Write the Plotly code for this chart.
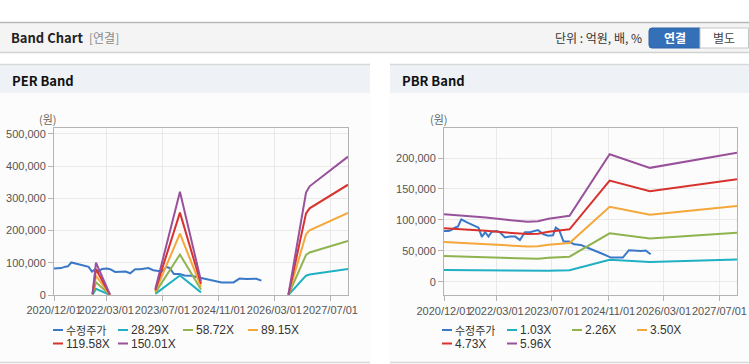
import plotly.graph_objects as go

W, H = 749, 364

# ---------------- data ----------------
price_dates = ["2020-12-01", "2021-01-10", "2021-02-01", "2021-03-10", "2021-04-01", "2021-05-01",
               "2021-06-15", "2021-07-31", "2021-09-28", "2021-10-27", "2021-11-25", "2021-12-24",
               "2022-01-22", "2022-03-05", "2022-04-03", "2022-05-17", "2022-06-30", "2022-08-15",
               "2022-09-24", "2022-11-07", "2022-12-20", "2023-03-01", "2023-04-14", "2023-05-28",
               "2023-07-10", "2023-08-03", "2023-09-01", "2023-10-10", "2023-11-28", "2024-01-10",
               "2024-03-08", "2024-05-06", "2024-07-04", "2024-09-01", "2024-11-27", "2025-03-10",
               "2025-05-02", "2025-06-30", "2025-08-15", "2025-09-25", "2025-11-08"]
price_values = [82000, 82000, 83500, 88000, 89000, 101000,
                96500, 92000, 87500, 72500, 80000, 73000,
                81000, 82000, 80000, 71500, 73000, 73000,
                67500, 80000, 80000, 83500, 77000, 74500,
                75000, 87500, 84000, 65000, 65000, 60500,
                59500, 55000, 50000, 46000, 39000, 39000,
                51000, 49500, 49500, 50500, 44500]

per_dates = ["2021-11-01", "2021-12-01", "2022-04-01", "2022-10-01",
             "2023-05-01", "2023-12-01", "2024-06-01", "2025-06-01",
             "2026-07-01", "2026-12-01", "2027-01-01", "2027-12-01"]
per_names = ["28.29X", "58.72X", "89.15X", "119.58X", "150.01X"]
per_2829 = [600, 19000, 300, None, 3500, 60500, 8200, None, 100, 60000, 63700, 81000]
per_5872 = [1200, 39300, 600, None, 7300, 125600, 17000, None, 300, 124500, 132100, 168200]
per_8915 = [1800, 59700, 900, None, 11100, 190700, 25900, None, 400, 189000, 200600, 255300]
per_11958 = [2400, 80100, 1200, None, 14900, 255800, 34700, None, 600, 253500, 269100, 342500]
per_15001 = [3000, 100500, 1500, None, 18800, 320900, 43500, None, 800, 318000, 337500, 429600]

pbr_dates = ["2020-12-01", "2021-06-01", "2021-12-01", "2022-06-01", "2022-12-01", "2023-03-01",
             "2023-06-01", "2023-12-01", "2024-11-15", "2025-11-01", "2027-12-01"]
pbr_names = ["1.03X", "2.26X", "3.50X", "4.73X", "5.96X"]
pbr_103 = [18800, 18400, 17900, 17300, 16800, 16900, 17600, 18400, 35600, 31800, 36100]
pbr_226 = [41400, 40500, 39300, 38000, 36800, 37100, 38600, 40500, 78200, 69800, 79100]
pbr_350 = [64100, 62700, 60900, 58800, 57100, 57400, 59900, 62700, 121100, 108200, 122500]
pbr_473 = [86600, 84700, 82300, 79500, 77100, 77600, 80900, 84700, 163700, 146200, 165600]
pbr_596 = [109100, 106700, 103700, 100100, 97100, 97700, 101900, 106700, 206200, 184200, 208600]

price_name = "수정주가"
x_tick_vals = ["2020-12-01", "2022-03-01", "2023-07-01", "2024-11-01", "2026-03-01", "2027-07-01"]
x_tick_text = ["2020/12/01", "2022/03/01", "2023/07/01", "2024/11/01", "2026/03/01", "2027/07/01"]
per_y_ticks = [0, 100000, 200000, 300000, 400000, 500000]
pbr_y_ticks = [0, 50000, 100000, 150000, 200000]

colors = ["#3a78c8", "#1fb0c3", "#8fb34f", "#f5a73a", "#d7322d", "#9a519b"]

# ---------------- figure ----------------
def X(p):
    return p / W


def Y(p):
    return 1 - p / H


fig = go.Figure()

per_series = [per_2829, per_5872, per_8915, per_11958, per_15001]
pbr_series = [pbr_103, pbr_226, pbr_350, pbr_473, pbr_596]

fig.add_trace(go.Scatter(x=price_dates, y=price_values, name=price_name, mode="lines",
                         line=dict(color=colors[0], width=2), xaxis="x", yaxis="y"))
for i, (nm, vals) in enumerate(zip(per_names, per_series)):
    fig.add_trace(go.Scatter(x=per_dates, y=vals, name=nm, mode="lines", connectgaps=False,
                             line=dict(color=colors[i + 1], width=2), xaxis="x", yaxis="y"))

fig.add_trace(go.Scatter(x=price_dates, y=price_values, name=price_name, mode="lines",
                         line=dict(color=colors[0], width=2), xaxis="x2", yaxis="y2"))
for i, (nm, vals) in enumerate(zip(pbr_names, pbr_series)):
    fig.add_trace(go.Scatter(x=pbr_dates, y=vals, name=nm, mode="lines",
                             line=dict(color=colors[i + 1], width=2), xaxis="x2", yaxis="y2"))

narrow = "Liberation Sans Narrow, Arial Narrow, Liberation Sans, Noto Sans CJK KR"
tick_font = dict(family=narrow, size=11, color="#555555")
axis_common = dict(showline=True, linecolor="#b4b4b4", linewidth=1, mirror=True,
                   showgrid=True, gridcolor="#e9e9e9", gridwidth=1, zeroline=False,
                   ticks="outside", ticklen=5, tickcolor="#b4b4b4", tickfont=tick_font,
                   automargin=False)

fig.update_layout(
    width=W, height=H,
    margin=dict(l=0, r=0, t=0, b=0, autoexpand=False),
    paper_bgcolor="white",
    plot_bgcolor="rgba(0,0,0,0)",
    showlegend=False,
    font=dict(family="Liberation Sans, Noto Sans CJK KR", size=11, color="#555555"),
    xaxis=dict(domain=[X(54), X(348)], anchor="y", type="date", tickangle=0,
               range=["2020-12-01", "2027-12-01"], tickvals=x_tick_vals, ticktext=x_tick_text,
               **axis_common),
    yaxis=dict(domain=[Y(295), Y(128)], anchor="x", range=[0, 518600],
               tickvals=per_y_ticks, tickformat=",d", **axis_common),
    xaxis2=dict(domain=[X(444), X(737)], anchor="y2", type="date", tickangle=0,
                range=["2020-12-01", "2027-12-01"], tickvals=x_tick_vals, ticktext=x_tick_text,
                **axis_common),
    yaxis2=dict(domain=[Y(295.3), Y(128.3)], anchor="x2", range=[-22000, 248200],
                tickvals=pbr_y_ticks, tickformat=",d", **axis_common),
)

shapes = []
# header bar
shapes.append(dict(type="rect", xref="paper", yref="paper", x0=X(0), x1=X(749), y0=Y(52), y1=Y(22),
                   fillcolor="#f4f4f4", line=dict(width=0), layer="below"))
shapes.append(dict(type="line", xref="paper", yref="paper", x0=X(0), x1=X(749), y0=Y(22.5), y1=Y(22.5),
                   line=dict(color="#b8b8b8", width=1.5), layer="below"))
shapes.append(dict(type="line", xref="paper", yref="paper", x0=X(0), x1=X(749), y0=Y(52.5), y1=Y(52.5),
                   line=dict(color="#d2d2d2", width=1.5), layer="below"))
# buttons
shapes.append(dict(type="path", xref="paper", yref="paper",
                   path=f"M {X(652)},{Y(28)} L {X(700)},{Y(28)} L {X(700)},{Y(48)} L {X(652)},{Y(48)} "
                        f"Q {X(649)},{Y(48)} {X(649)},{Y(45)} L {X(649)},{Y(31)} Q {X(649)},{Y(28)} {X(652)},{Y(28)} Z",
                   fillcolor="#3470b8", line=dict(color="#2c62a6", width=1), layer="below"))
shapes.append(dict(type="rect", xref="paper", yref="paper", x0=X(700), x1=X(748.5), y0=Y(48), y1=Y(28),
                   fillcolor="#ffffff", line=dict(color="#c6c6c6", width=1), layer="below"))
# panels
for (a, b) in [(0, 370), (390, 749)]:
    shapes.append(dict(type="rect", xref="paper", yref="paper", x0=X(a), x1=X(b), y0=Y(362.5), y1=Y(64.5),
                       fillcolor="#fcfcfc", line=dict(width=0), layer="below"))
    shapes.append(dict(type="rect", xref="paper", yref="paper", x0=X(a), x1=X(b), y0=Y(93), y1=Y(64.5),
                       fillcolor="#eef2f7", line=dict(width=0), layer="below"))
    shapes.append(dict(type="line", xref="paper", yref="paper", x0=X(a), x1=X(b), y0=Y(64.5), y1=Y(64.5),
                       line=dict(color="#d8d8d8", width=1.5), layer="below"))
    shapes.append(dict(type="line", xref="paper", yref="paper", x0=X(a), x1=X(b), y0=Y(362.5), y1=Y(362.5),
                       line=dict(color="#d8d8d8", width=1.5), layer="below"))

annotations = []


def txt(x, y, s, size=12, color="#333", bold=False, xanchor="left",
        family="Noto Sans CJK KR, Liberation Sans", height=None):
    if bold:
        s = "<b>" + s + "</b>"
    a = dict(x=X(x), y=Y(y), xref="paper", yref="paper", text=s, showarrow=False,
             xanchor=xanchor, yanchor="middle", borderpad=0,
             font=dict(size=size, color=color, family=family))
    if height:
        a["height"] = height
    annotations.append(a)


txt(10, 38, "Band Chart", size=13, color="#222", bold=True)
txt(88, 38, "[연결]", size=12, color="#8a8a8a")
txt(643, 38, "단위 : 억원, 배, %", size=12, color="#333", xanchor="right")
txt(674.5, 38, "연결", size=12, color="#ffffff", bold=True, xanchor="center")
txt(724, 38, "별도", size=12, color="#444", xanchor="center")
txt(11, 80, "PER Band", size=13, color="#111", bold=True)
txt(401, 80, "PBR Band", size=13, color="#111", bold=True)
txt(48, 119, "(원)", size=11, color="#666", xanchor="center")
txt(439, 119, "(원)", size=11, color="#666", xanchor="center")

# legends (built from the series names / colours)
for base_x, names in [(53, [price_name] + per_names), (442, [price_name] + pbr_names)]:
    for i, nm in enumerate(names):
        col = i % 4
        row = i // 4
        lx = base_x + col * 65
        ly = 330 + row * 13.5
        shapes.append(dict(type="line", xref="paper", yref="paper", x0=X(lx), x1=X(lx + 10),
                           y0=Y(ly), y1=Y(ly), line=dict(color=colors[i], width=2)))
        fam = "Noto Sans CJK KR" if i == 0 else narrow
        txt(lx + 12, ly, nm, size=11 if i == 0 else 12, color="#333", family=fam, height=12)

fig.update_layout(shapes=shapes, annotations=annotations)

fig.write_html("out.html", config={"displayModeBar": False},
               post_script="document.body.style.margin='0px';")
